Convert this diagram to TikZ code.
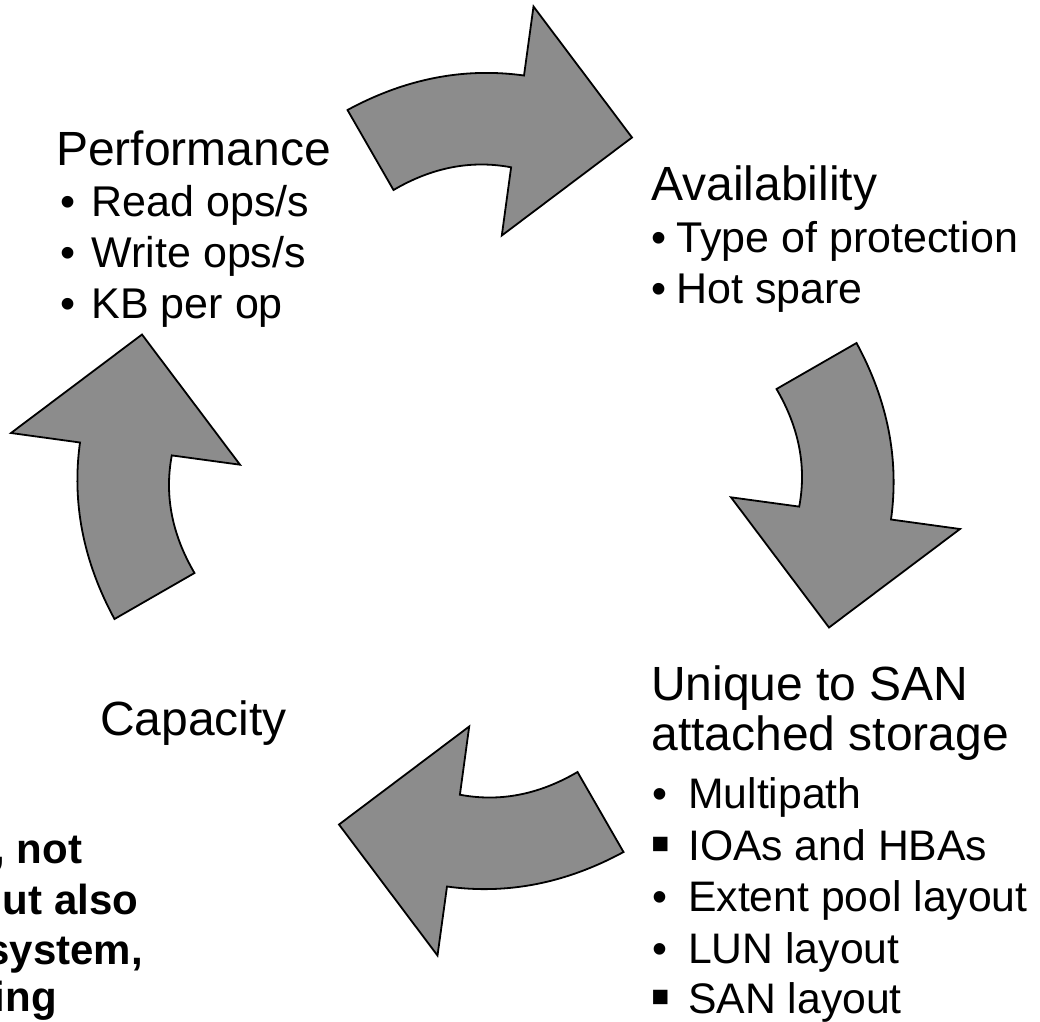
\documentclass[tikz,border=0pt]{standalone}
\usepackage{fontspec}
\setmainfont{Liberation Sans}
\definecolor{arrowgray}{RGB}{140,140,140}
\tikzset{
  cyclearrow/.style={fill=arrowgray, draw=black, line width=1.8pt, line join=miter},
  headtext/.style={anchor=base west, inner sep=0pt, font=\fontsize{48}{56}\selectfont},
  itemtext/.style={anchor=base west, inner sep=0pt, font=\fontsize{43}{50}\selectfont},
  sanitem/.style={anchor=base west, inner sep=0pt, font=\fontsize{42.7}{50}\selectfont},
  sqbullet/.style={anchor=base west, inner sep=0pt, font=\fontsize{58}{60}\selectfont},
  boldtext/.style={anchor=base east, inner sep=0pt, font=\fontsize{42}{50}\selectfont\bfseries},
  cyclearr/.pic={
    \draw[cyclearrow] (-138,-371) .. controls (-80.3,-402.3) and (-21.5,-413.8) .. (38.5,-405.5)
      -- (48,-474.5) -- (146.5,-343.5) -- (16.3,-245.5) -- (25.6,-313.7)
      .. controls (-14.1,-321.2) and (-53.3,-313.7) .. (-92,-291) -- cycle;
  }
}
\begin{document}
\begin{tikzpicture}[x=1pt,y=-1pt]
\useasboundingbox (0,0) rectangle (1040,1021);
\clip (0,0) rectangle (1040,1021);
\fill[white] (0,0) rectangle (1040,1021);

% arrows
\pic (arrTop) at (485.5,481) {cyclearr};
\pic[rotate=-90] (arrRight) at (485.5,481) {cyclearr};
\pic[rotate=180] (arrBottom) at (485.5,481) {cyclearr};
\pic[rotate=90] (arrLeft) at (485.5,481) {cyclearr};

% Performance
\node[headtext] (perfH) at (56,165) {Performance};
\node[itemtext] (perfB1) at (60,216.5) {•};
\node[itemtext] (perf1) at (91.5,216.5) {Read ops/s};
\node[itemtext] (perfB2) at (60,267.5) {•};
\node[itemtext] (perf2) at (91.5,267.5) {Write ops/s};
\node[itemtext] (perfB3) at (60,318.5) {•};
\node[itemtext] (perf3) at (91.5,318.5) {KB per op};

% Availability
\node[headtext] (availH) at (651,200) {Availability};
\node[itemtext] (availB1) at (651,252.7) {•};
\node[itemtext] (avail1) at (676,252.7) {Type of protection};
\node[itemtext] (availB2) at (651,303.3) {•};
\node[itemtext] (avail2) at (676,303.3) {Hot spare};

% SAN
\node[headtext] (sanH1) at (651,700) {Unique to SAN};
\node[headtext] (sanH2) at (651.3,750) {attached storage};
\node[sanitem] (sanB1) at (652,808.3) {•};
\node[sanitem] (san1) at (688,808.3) {Multipath};
\node[sqbullet] (sanB2) at (650,862) {▪};
\node[sanitem] (san2) at (688,860) {IOAs and HBAs};
\node[sanitem] (sanB3) at (652,911.7) {•};
\node[sanitem] (san3) at (688,911.7) {Extent pool layout};
\node[sanitem] (sanB4) at (652,963.3) {•};
\node[sanitem] (san4) at (688,963.3) {LUN layout};
\node[sqbullet] (sanB5) at (650,1015.3) {▪};
\node[sanitem] (san5) at (688,1013.3) {SAN layout};

% Capacity
\node[headtext] (capH) at (100,735) {Capacity};

% clipped bold text
\node[boldtext] (bold1) at (82.5,863) {, not};
\node[boldtext] (bold2) at (138.5,914.5) {ut also};
\node[boldtext] (bold3) at (143,964) {system,};
\node[boldtext] (bold4) at (57,1011) {ing};
\end{tikzpicture}
\end{document}
